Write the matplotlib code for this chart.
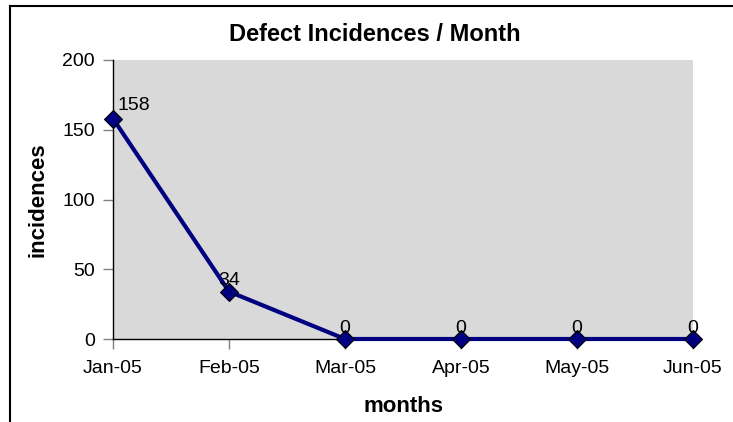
import matplotlib
matplotlib.use("Agg")
import matplotlib.pyplot as plt
from matplotlib.lines import Line2D

plt.rcParams['font.family'] = ['Liberation Sans', 'DejaVu Sans']

months = ["Jan-05", "Feb-05", "Mar-05", "Apr-05", "May-05", "Jun-05"]
incidences = [158, 34, 0, 0, 0, 0]
y_ticks = [0, 50, 100, 150, 200]

W, H = 733, 422
fig = plt.figure(figsize=(W / 100, H / 100), dpi=100)
ax = fig.add_axes([113 / W, 1 - 339 / H, (693 - 113) / W, (339 - 60) / H])
ax.set_facecolor('#D9D9D9')

x = list(range(len(months)))
ax.plot(x, incidences, color='#000080', lw=3.0, marker='D', markersize=9.5,
        markerfacecolor='#000080', markeredgecolor='black', markeredgewidth=0.8,
        clip_on=False, zorder=5)

ax.set_xlim(0, len(months) - 1)
ax.set_ylim(0, 200)
ax.set_xticks(x)
ax.set_xticklabels(months, fontsize=14)
ax.set_yticks(y_ticks)
ax.set_yticklabels([str(v) for v in y_ticks], fontsize=14)
ax.tick_params(axis='x', direction='out', length=7, width=1, color='#808080', pad=8)
ax.tick_params(axis='y', direction='out', length=7, width=1, color='#808080', pad=6)
for s in ['top', 'right']:
    ax.spines[s].set_visible(False)
for s in ['left', 'bottom']:
    ax.spines[s].set_color('black')
    ax.spines[s].set_linewidth(1)

for i, v in enumerate(incidences):
    if i == 0:
        ax.annotate(str(v), (i, v), xytext=(3, 3), textcoords='offset points',
                    ha='left', va='bottom', fontsize=14, zorder=6)
    else:
        ax.annotate(str(v), (i, v), xytext=(0, 1.5), textcoords='offset points',
                    ha='center', va='bottom', fontsize=14, zorder=6)

ax.set_xlabel('months', fontsize=16, fontweight='bold', labelpad=14)
ax.set_ylabel('incidences', fontsize=16, fontweight='bold', labelpad=10)
fig.text(374.5 / W, 1 - 41 / H, 'Defect Incidences / Month', fontsize=17,
         fontweight='bold', ha='center', va='baseline')

# chart border (left and top visible)
fig.add_artist(Line2D([10 / W, 10 / W], [0, 1 - 6 / H], transform=fig.transFigure,
                      color='black', lw=1.5))
fig.add_artist(Line2D([10 / W, 1], [1 - 6 / H, 1 - 6 / H], transform=fig.transFigure,
                      color='black', lw=1.5))

fig.savefig('out.png', dpi=100)
